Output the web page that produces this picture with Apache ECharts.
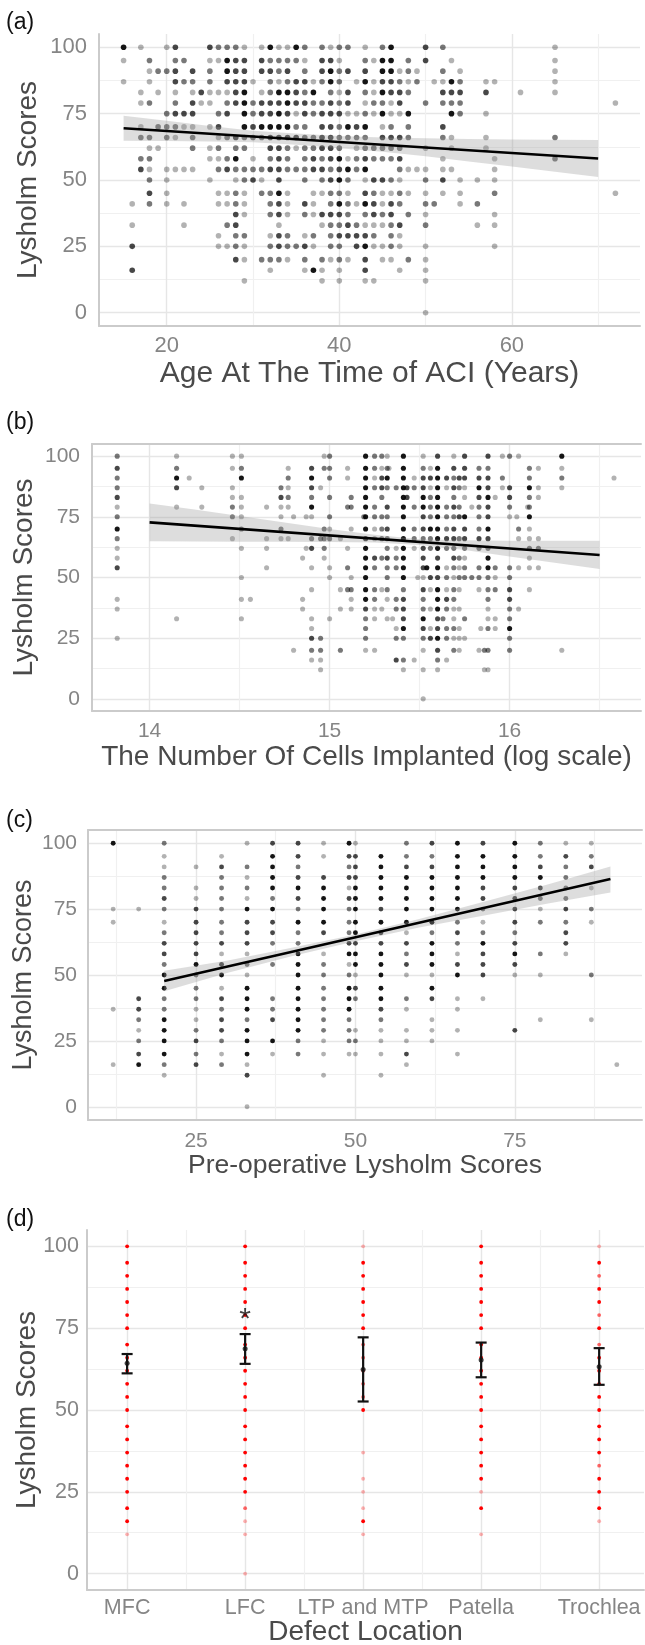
<!DOCTYPE html>
<html><head><meta charset="utf-8">
<script src="https://cdn.jsdelivr.net/npm/echarts@6/dist/echarts.min.js"></script>
<style>html,body{margin:0;padding:0;background:#fff}#c{width:645px;height:1645px}</style>
</head><body><div id="c"></div>
<script>
// ---------- DATA ----------
const yTicks = [0, 25, 50, 75, 100];
const yMinor = [12.5, 37.5, 62.5, 87.5];
const xTicksA = [20, 40, 60], xMinorA = [30, 50, 70];
const xTicksB = [14, 15, 16], xMinorB = [14.5, 15.5, 16.5];
const xTicksC = [25, 50, 75], xMinorC = [12.5, 37.5, 62.5, 87.5];
const categoriesD = ['MFC', 'LFC', 'LTP and MTP', 'Patella', 'Trochlea'];
const xTicksD = [0, 1, 2, 3, 4], xMinorD = [0.5, 1.5, 2.5, 3.5];

// (a) rows: [score, [[age, overlapCount], ...]]
const scoreRowsA = [
 [100, [[15,4],[17,1],[20,1],[21,3],[25,3],[26,2],[27,2],[28,2],[29,1],[31,1],[32,4],[33,1],[34,1],[35,4],[36,2],[38,2],[39,1],[40,2],[41,2],[43,1],[45,2],[46,4],[50,3],[52,2],[65,1]]],
 [95, [[15,1],[18,2],[21,2],[22,2],[25,1],[26,1],[27,4],[28,3],[29,3],[31,3],[32,2],[33,2],[34,2],[35,2],[36,1],[38,3],[39,3],[40,1],[43,2],[44,1],[45,4],[46,4],[48,2],[50,3],[53,1],[65,1]]],
 [91, [[18,1],[19,2],[20,2],[21,3],[23,3],[25,2],[27,4],[28,3],[29,3],[31,3],[32,3],[33,2],[34,3],[36,2],[38,3],[39,4],[40,2],[41,3],[43,3],[45,4],[46,4],[47,1],[48,2],[49,1],[52,2],[54,1],[65,1]]],
 [87, [[15,1],[18,1],[21,3],[22,2],[23,2],[25,2],[27,3],[28,3],[29,3],[30,1],[32,2],[33,1],[34,2],[35,3],[36,3],[37,1],[38,2],[39,4],[40,2],[42,1],[43,4],[44,1],[45,3],[46,3],[47,2],[48,1],[49,2],[51,1],[52,1],[53,4],[54,2],[57,1],[58,1],[65,1]]],
 [83, [[17,1],[19,1],[21,1],[23,1],[24,3],[25,1],[26,1],[27,1],[28,3],[29,4],[31,1],[32,2],[33,4],[34,4],[35,3],[36,2],[37,4],[39,2],[40,1],[41,3],[43,2],[44,1],[45,4],[46,3],[47,3],[48,2],[52,3],[53,3],[54,3],[57,3],[61,1],[65,1]]],
 [79, [[17,1],[18,2],[21,2],[23,3],[24,1],[25,1],[27,2],[28,3],[29,4],[30,2],[31,3],[32,3],[33,3],[34,4],[35,3],[36,3],[37,2],[38,2],[39,3],[40,2],[41,3],[43,1],[44,2],[45,2],[46,1],[47,3],[50,2],[52,2],[53,2],[54,2],[72,1]]],
 [75, [[20,2],[21,3],[22,3],[23,3],[26,2],[27,3],[29,4],[30,2],[31,3],[32,3],[33,4],[34,3],[35,1],[36,3],[37,2],[38,3],[39,3],[40,3],[41,1],[42,1],[43,2],[44,1],[45,4],[46,1],[47,1],[48,4],[53,4],[54,2],[57,1]]],
 [70, [[17,1],[19,2],[20,2],[21,2],[22,1],[23,1],[25,1],[26,3],[29,4],[30,3],[31,4],[32,4],[33,4],[34,4],[35,2],[36,2],[38,3],[39,3],[40,2],[41,4],[42,3],[43,4],[45,1],[46,2],[48,2],[52,3]]],
 [66, [[17,2],[18,2],[20,2],[21,1],[23,2],[26,1],[27,2],[28,3],[29,2],[30,2],[31,2],[32,3],[33,3],[34,3],[35,3],[36,2],[37,2],[38,3],[39,3],[40,2],[41,2],[42,2],[43,2],[45,3],[46,3],[47,3],[48,2],[52,2],[53,1],[57,1],[65,2]]],
 [62, [[18,1],[19,1],[23,2],[25,1],[26,2],[28,2],[29,2],[32,3],[33,3],[34,2],[35,1],[36,2],[37,2],[38,3],[39,3],[40,2],[42,1],[43,2],[44,2],[45,2],[46,2],[47,2],[50,1],[53,1],[57,1]]],
 [58, [[17,2],[18,2],[25,1],[26,1],[27,2],[28,4],[30,1],[32,2],[33,3],[34,2],[36,2],[37,3],[38,2],[39,3],[40,4],[41,1],[42,2],[43,3],[44,2],[45,2],[46,2],[47,3],[52,1],[58,1],[65,2]]],
 [54, [[17,3],[18,1],[20,1],[21,1],[22,1],[23,1],[26,2],[27,3],[28,2],[29,2],[30,2],[31,2],[32,3],[33,3],[34,2],[35,2],[36,2],[37,3],[38,3],[39,2],[40,3],[41,4],[42,2],[43,4],[47,2],[48,1],[49,1],[50,1],[52,1],[53,1],[58,1]]],
 [50, [[18,2],[20,1],[25,1],[28,1],[29,2],[30,3],[31,1],[33,3],[36,2],[38,2],[39,3],[40,4],[41,2],[43,1],[44,3],[45,3],[46,2],[47,1],[50,2],[52,3],[54,1],[56,1],[58,1]]],
 [45, [[18,3],[20,1],[26,1],[27,1],[28,2],[29,1],[31,2],[32,2],[33,4],[34,1],[37,1],[38,1],[39,2],[40,2],[41,1],[43,3],[44,2],[45,1],[46,1],[47,2],[48,1],[50,1],[52,1],[54,1],[58,2],[72,1]]],
 [41, [[16,1],[18,2],[20,1],[22,1],[26,1],[27,1],[28,2],[29,1],[32,2],[33,3],[34,1],[36,3],[37,1],[39,2],[40,4],[41,2],[42,1],[43,4],[44,3],[45,1],[46,3],[47,2],[50,2],[51,2],[54,1],[56,2]]],
 [37, [[28,3],[29,1],[32,2],[33,3],[34,1],[36,2],[37,1],[38,3],[39,3],[40,3],[41,2],[43,2],[44,3],[45,2],[46,3],[48,2],[50,1],[58,1]]],
 [33, [[16,1],[22,1],[27,2],[28,3],[33,1],[38,1],[39,2],[40,2],[41,3],[42,2],[43,1],[44,1],[45,1],[46,2],[47,3],[50,2],[56,1],[58,1]]],
 [29, [[26,1],[28,2],[29,2],[32,1],[33,3],[34,2],[36,1],[37,2],[39,2],[40,3],[41,3],[42,3],[43,3],[44,2],[46,2],[47,1]]],
 [25, [[16,3],[26,1],[27,1],[28,2],[29,1],[32,2],[33,3],[34,2],[35,2],[36,3],[37,1],[39,2],[40,2],[42,3],[43,4],[44,1],[45,1],[46,2],[47,1],[50,1],[58,1]]],
 [20, [[28,3],[29,1],[31,2],[32,2],[33,2],[34,1],[36,2],[38,2],[39,1],[40,2],[41,1],[43,3],[45,1],[46,1],[48,2],[50,1]]],
 [16, [[16,3],[32,1],[36,1],[37,4],[38,1],[40,1],[43,3],[47,1],[50,1]]],
 [12, [[29,1],[38,1],[40,1],[43,1],[44,1],[50,1]]],
 [0, [[50,1]]]
];
const fitA = [[15, 69.5], [70, 58.1]];
const bandAx = [15, 20, 25, 30, 35, 40, 45, 50, 55, 60, 65, 70];
const bandAlo = [64.8, 64.7, 64.5, 64.2, 63.3, 62.0, 60.6, 58.9, 57.0, 55.1, 53.1, 51.1];
const bandAhi = [74.2, 72.3, 70.3, 68.6, 67.5, 66.6, 66.0, 65.7, 65.4, 65.3, 65.2, 65.1];

// (b) rows: [score, [[log cells, overlapCount], ...]]
const scoreRowsB = [
 [100, [[13.82,2],[14.15,1],[14.46,1],[14.51,1],[14.97,1],[15.00,2],[15.20,4],[15.25,2],[15.29,2],[15.32,1],[15.41,4],[15.52,1],[15.60,3],[15.69,1],[15.75,3],[15.88,3],[15.96,1],[16.00,2],[16.05,1],[16.29,4]]],
 [95, [[13.82,3],[14.15,2],[14.46,1],[14.51,2],[14.77,1],[14.90,3],[14.97,2],[15.00,2],[15.10,1],[15.20,4],[15.25,2],[15.29,1],[15.32,2],[15.33,1],[15.41,4],[15.52,2],[15.56,1],[15.60,4],[15.69,3],[15.75,3],[15.83,2],[15.88,2],[16.11,2],[16.16,1],[16.29,1]]],
 [91, [[13.82,2],[14.15,4],[14.22,1],[14.51,4],[14.77,2],[14.90,4],[15.00,2],[15.10,1],[15.20,4],[15.25,1],[15.29,3],[15.32,4],[15.41,4],[15.47,1],[15.52,3],[15.56,3],[15.60,4],[15.65,3],[15.69,2],[15.72,3],[15.75,3],[15.83,3],[15.88,3],[15.96,2],[16.11,2],[16.29,2],[16.58,1]]],
 [87, [[13.82,2],[14.15,3],[14.29,1],[14.46,1],[14.73,2],[14.77,1],[14.90,3],[14.95,1],[15.20,4],[15.25,2],[15.29,3],[15.32,2],[15.37,2],[15.41,4],[15.43,3],[15.47,2],[15.52,3],[15.56,1],[15.60,4],[15.65,1],[15.69,3],[15.72,2],[15.75,1],[15.83,4],[15.88,3],[15.96,1],[16.00,3],[16.11,4],[16.16,1],[16.29,1]]],
 [83, [[13.82,3],[14.46,1],[14.51,1],[14.73,3],[14.77,2],[14.90,2],[15.00,2],[15.12,2],[15.20,4],[15.29,2],[15.41,4],[15.43,3],[15.52,4],[15.56,2],[15.60,4],[15.69,2],[15.75,1],[15.83,3],[15.88,4],[15.92,1],[16.00,3],[16.11,2],[16.16,1]]],
 [79, [[13.82,1],[14.15,1],[14.29,1],[14.46,2],[14.51,1],[14.65,1],[14.73,1],[14.77,1],[14.90,4],[15.10,2],[15.12,2],[15.20,4],[15.25,2],[15.32,3],[15.41,4],[15.47,2],[15.52,4],[15.56,2],[15.60,4],[15.65,2],[15.69,3],[15.72,2],[15.79,1],[15.83,2],[15.88,3],[16.00,2],[16.10,1],[16.11,2]]],
 [75, [[13.82,2],[14.46,2],[14.51,1],[14.73,1],[14.80,1],[14.87,1],[14.90,1],[15.00,2],[15.19,2],[15.20,4],[15.25,2],[15.29,2],[15.32,2],[15.41,4],[15.52,3],[15.56,2],[15.60,4],[15.65,2],[15.69,2],[15.72,3],[15.75,4],[15.83,2],[15.88,3],[16.00,1],[16.04,1],[16.11,4]]],
 [70, [[13.82,4],[14.51,2],[14.73,2],[14.97,2],[15.00,1],[15.12,1],[15.20,4],[15.25,1],[15.29,2],[15.32,3],[15.41,4],[15.47,2],[15.52,3],[15.56,4],[15.60,4],[15.65,2],[15.69,3],[15.75,3],[15.83,2],[15.88,4],[16.05,2],[16.11,1]]],
 [66, [[13.82,2],[14.46,1],[14.65,1],[14.73,1],[14.77,1],[14.90,2],[14.95,2],[14.97,2],[15.00,2],[15.06,1],[15.20,3],[15.25,1],[15.29,2],[15.32,2],[15.41,4],[15.47,2],[15.52,2],[15.56,2],[15.60,4],[15.65,3],[15.69,3],[15.72,2],[15.75,3],[15.83,3],[15.88,3],[16.05,1],[16.11,1],[16.16,1]]],
 [62, [[13.82,1],[14.51,1],[14.65,1],[14.87,1],[14.90,3],[14.97,2],[15.10,1],[15.20,4],[15.32,2],[15.37,1],[15.41,4],[15.47,1],[15.52,3],[15.56,2],[15.60,4],[15.65,2],[15.69,2],[15.75,2],[15.83,2],[15.88,2],[16.11,2],[16.16,2]]],
 [58, [[13.82,1],[14.85,1],[14.97,1],[15.20,4],[15.25,3],[15.29,2],[15.32,3],[15.37,2],[15.41,4],[15.52,3],[15.60,3],[15.69,3],[15.72,2],[15.75,1],[15.88,4],[16.11,1]]],
 [54, [[13.82,3],[14.65,1],[14.90,1],[15.00,1],[15.10,2],[15.20,4],[15.25,2],[15.32,2],[15.37,2],[15.41,4],[15.52,3],[15.54,4],[15.60,4],[15.65,1],[15.69,2],[15.72,1],[15.75,2],[15.83,2],[15.88,4],[15.92,2],[16.00,2],[16.05,1],[16.11,1],[16.16,1]]],
 [50, [[14.51,1],[15.00,1],[15.12,1],[15.20,4],[15.32,2],[15.41,4],[15.49,1],[15.52,1],[15.56,3],[15.60,3],[15.65,2],[15.69,1],[15.72,2],[15.75,2],[15.79,2],[15.83,2],[15.88,2],[15.92,1],[16.00,2]]],
 [45, [[14.90,1],[15.06,1],[15.10,2],[15.12,2],[15.20,4],[15.25,2],[15.29,1],[15.32,2],[15.41,2],[15.52,3],[15.56,1],[15.60,4],[15.65,1],[15.69,2],[15.72,1],[15.83,1],[15.88,2],[15.92,2],[16.00,3],[16.11,1]]],
 [41, [[13.82,1],[14.51,1],[14.56,1],[14.85,1],[15.12,1],[15.20,4],[15.25,2],[15.32,1],[15.37,2],[15.41,3],[15.52,2],[15.60,4],[15.65,3],[15.69,2],[15.88,2],[16.00,3]]],
 [37, [[13.82,1],[14.85,1],[15.06,1],[15.12,1],[15.20,3],[15.25,1],[15.29,1],[15.37,2],[15.41,3],[15.52,2],[15.56,1],[15.60,4],[15.65,2],[15.69,1],[15.72,1],[15.88,1],[16.00,2],[16.05,1]]],
 [33, [[14.15,1],[14.51,1],[14.90,1],[15.00,1],[15.20,2],[15.25,1],[15.32,1],[15.35,1],[15.41,3],[15.52,4],[15.60,3],[15.63,2],[15.69,1],[15.75,2],[15.88,1],[15.92,1],[16.00,2]]],
 [29, [[14.90,1],[15.20,2],[15.37,1],[15.41,4],[15.52,3],[15.56,1],[15.60,3],[15.65,2],[15.69,2],[15.72,1],[15.84,1],[15.88,2],[15.92,1],[16.00,4]]],
 [25, [[13.82,1],[14.90,3],[14.95,2],[15.20,2],[15.37,2],[15.41,2],[15.52,2],[15.56,3],[15.60,4],[15.65,2],[15.69,1],[15.72,1],[15.75,1],[16.00,2]]],
 [20, [[14.80,1],[14.90,2],[14.95,2],[15.06,2],[15.20,1],[15.25,1],[15.52,1],[15.60,3],[15.69,2],[15.72,1],[15.83,1],[15.86,2],[15.88,2],[16.00,2],[16.29,1]]],
 [16, [[14.90,1],[14.95,1],[15.37,3],[15.41,2],[15.47,1],[15.60,2],[15.65,1]]],
 [12, [[14.95,1],[15.41,1],[15.52,1],[15.60,1],[15.86,1],[15.88,1]]],
 [0, [[15.52,1]]]
];
const fitB = [[14.0, 72.7], [16.5, 59.3]];
const bandBx = [14.0, 14.25, 14.5, 14.75, 15.0, 15.25, 15.5, 15.75, 16.0, 16.25, 16.5];
const bandBlo = [64.9, 64.8, 64.7, 64.7, 64.6, 64.4, 63.4, 61.3, 58.7, 56.1, 53.5];
const bandBhi = [80.5, 78.0, 75.3, 72.7, 70.0, 67.6, 65.8, 65.3, 65.1, 65.1, 65.1];

// (c) columns: [pre-op score, [[post-op score, overlapCount], ...]]
const preColsC = [
 [12, [[100,4],[75,1],[70,1],[37,1],[16,1]]],
 [16, [[75,1],[41,3],[37,3],[33,2],[29,1],[25,2],[20,3],[16,4]]],
 [20, [[100,2],[95,1],[91,1],[87,2],[83,2],[79,3],[75,2],[70,1],[66,2],[62,3],[58,3],[54,2],[50,4],[45,4],[41,2],[37,2],[33,4],[29,4],[25,4],[20,4],[16,2],[12,1]]],
 [25, [[91,1],[83,1],[79,1],[75,3],[70,3],[66,3],[62,3],[58,3],[54,4],[50,2],[45,2],[41,2],[37,1],[33,1],[29,2],[25,3],[20,2],[16,3]]],
 [29, [[95,1],[91,3],[87,2],[83,2],[79,2],[75,2],[70,2],[66,2],[62,3],[58,1],[54,3],[50,4],[45,1],[41,3],[37,2],[33,3],[29,3],[25,2],[20,1],[16,2]]],
 [33, [[100,1],[91,2],[87,1],[83,2],[79,1],[75,4],[70,3],[66,3],[62,3],[58,1],[54,2],[50,1],[45,4],[41,4],[37,4],[33,2],[29,4],[25,4],[20,4],[16,1],[12,3],[0,1]]],
 [37, [[100,3],[95,4],[91,4],[87,4],[83,4],[79,2],[75,4],[70,3],[66,3],[62,2],[54,2],[41,2],[37,2],[33,3],[25,4],[20,1]]],
 [41, [[100,3],[95,3],[91,2],[87,3],[83,4],[79,3],[75,2],[70,4],[66,2],[62,2],[58,4],[54,4],[50,4],[45,4],[41,4],[37,4],[33,4],[29,4],[25,2],[20,2]]],
 [45, [[100,1],[95,1],[87,3],[83,4],[79,4],[75,4],[70,4],[66,3],[58,1],[54,2],[50,2],[45,2],[41,2],[37,2],[33,2],[29,2],[25,1],[20,1],[12,1]]],
 [49, [[100,4],[95,3],[91,2],[87,3],[83,1],[79,3],[75,2],[70,2],[66,2],[62,3],[58,4],[54,1],[50,2],[45,4],[41,4],[37,4],[33,2],[29,2],[25,2],[20,1]]],
 [50, [[100,1],[95,3],[91,3],[87,3],[83,4],[79,4],[75,4],[70,4],[66,4],[62,3],[58,4],[54,4],[50,1],[45,3],[41,2],[29,1],[25,2],[20,1]]],
 [54, [[95,4],[91,4],[87,4],[83,4],[79,4],[75,3],[70,4],[66,3],[62,3],[58,4],[54,4],[50,4],[45,4],[41,4],[37,3],[33,2],[29,1],[25,1],[20,1],[12,1]]],
 [58, [[100,2],[95,2],[91,3],[87,4],[83,4],[79,4],[75,4],[70,4],[66,1],[62,3],[58,2],[54,3],[50,1],[41,2],[37,1],[29,1],[25,1],[20,3],[16,1]]],
 [62, [[100,3],[95,2],[91,3],[87,4],[83,4],[79,4],[75,4],[70,4],[66,2],[62,4],[58,4],[54,4],[50,1],[45,4],[41,3],[33,1],[29,1],[25,1]]],
 [66, [[100,4],[95,4],[91,4],[87,4],[83,4],[79,4],[75,4],[70,2],[66,3],[62,2],[58,1],[54,3],[50,4],[41,1],[37,1],[29,1],[20,1]]],
 [70, [[100,3],[95,4],[91,4],[87,4],[83,3],[79,3],[75,2],[70,1],[66,2],[62,4],[58,3],[54,3],[50,3],[41,1]]],
 [75, [[100,4],[95,4],[91,4],[87,4],[83,3],[79,3],[75,3],[70,3],[66,2],[62,3],[58,4],[54,3],[50,1],[29,3]]],
 [79, [[100,2],[95,2],[91,3],[87,4],[83,3],[79,2],[75,1],[70,2],[58,2],[50,1],[33,1]]],
 [83, [[100,1],[95,3],[91,2],[87,2],[83,2],[79,2],[75,3],[70,2],[66,3],[62,3],[58,1]]],
 [87, [[100,1],[95,2],[91,3],[83,1],[75,2],[70,1],[50,2],[33,1]]],
 [91, [[16,1]]]
];
const fitC = [[20, 47.7], [90, 86.4]];
const bandCx = [20, 30, 40, 50, 60, 70, 80, 90];
const bandClo = [43.8, 50.9, 57.1, 62.8, 68.0, 72.5, 77.0, 81.3];
const bandChi = [51.6, 55.5, 60.3, 65.4, 71.2, 77.7, 84.2, 91.2];

// (d) red points per location: [categoryIndex, [[score, overlapLevel], ...]]
const redColsD = [
 [0, [[100,3],[95,3],[91,3],[87,3],[83,3],[79,3],[75,3],[70,3],[66,3],[62,3],[58,3],[54,3],[50,3],[45,3],[41,3],[37,3],[33,3],[29,3],[25,3],[20,3],[16,3],[12,1]]],
 [1, [[100,3],[95,3],[91,3],[87,3],[83,3],[79,3],[75,3],[70,3],[66,3],[62,3],[58,3],[54,3],[50,3],[45,3],[41,3],[37,3],[33,3],[29,3],[25,3],[20,2],[16,1],[12,1],[0,1]]],
 [2, [[100,1],[95,3],[91,3],[87,3],[83,3],[79,3],[75,3],[70,2],[66,2],[62,2],[58,2],[54,2],[50,3],[37,1],[29,1],[25,1],[20,1],[16,3],[12,1]]],
 [3, [[100,3],[95,3],[91,3],[87,3],[83,3],[79,3],[75,3],[70,3],[66,3],[62,3],[58,3],[54,3],[50,3],[45,3],[41,3],[37,3],[33,3],[29,3],[25,1],[20,3],[12,1]]],
 [4, [[100,1],[95,3],[91,2],[87,3],[83,3],[79,2],[75,3],[70,2],[66,3],[62,3],[58,3],[54,3],[50,3],[45,3],[41,3],[37,3],[33,2],[29,3],[25,3],[20,3],[16,1]]]
];
// means and 95% CI per location
const meansD = [64.3, 68.7, 62.4, 65.3, 63.2];
const ciLowD = [61.2, 64.1, 52.6, 60.0, 57.7];
const ciHighD = [67.1, 73.2, 72.2, 70.6, 68.9];
const signifD = [[1, 77.5]];

// ---------- STYLE ----------
const FONT = 'Liberation Sans, Arial, Helvetica, sans-serif';
const TICK_C = '#858585', TITLE_C = '#4a4a4a', AXIS_C = '#cbcbcb', GRID_C = '#e6e6e6', MINOR_C = '#f0f0f0';
const OP = [0, 0.3, 0.53, 0.72, 0.92];
const OPD = [0, 0.3, 0.6, 1];

const panels = [
 {grid:{left:99, top:34, width:541, height:292}, xmin:12.15, xmax:74.85, xt:xTicksA, xm:xMinorA,
  xname:'Age At The Time of ACI (Years)', top:false, xNameGap:33, yNameGap:57, xMargin:9, yMargin:12, tick:22, title:28, xtitle:30},
 {grid:{left:92, top:444, width:549, height:267}, xmin:13.68, xmax:16.73, xt:xTicksB, xm:xMinorB,
  xname:'The Number Of Cells Implanted (log scale)', top:true, xNameGap:32, yNameGap:54, xMargin:10, yMargin:12, tick:21, title:28, xtitle:28},
 {grid:{left:88, top:830, width:554, height:290}, xmin:8.05, xmax:94.95, xt:xTicksC, xm:xMinorC,
  xname:'Pre-operative Lysholm Scores', top:true, xNameGap:32, yNameGap:51, xMargin:11, yMargin:11, tick:21, title:27, xtitle:26.5},
 {grid:{left:87, top:1230, width:557, height:360}, xmin:-0.34, xmax:4.38, xt:xTicksD, xm:xMinorD,
  xname:'Defect Location', top:false, xNameGap:28, yNameGap:46, xMargin:7, yMargin:8, tick:21.5, title:28, xtitle:28,
  fmt: v => categoriesD[Math.round(v)]}
];

const grids = [], xAxes = [], yAxes = [], xMin = [], yMin = [];
panels.forEach((p, i) => {
  grids.push(Object.assign({containLabel:false, outerBoundsMode:'none'}, p.grid));
  xAxes.push({type:'value', gridIndex:i, min:p.xmin, max:p.xmax, position:'bottom',
    name:p.xname, nameLocation:'middle', nameGap:p.xNameGap, nameMoveOverlap:false,
    nameTextStyle:{fontSize:p.xtitle, color:TITLE_C, fontFamily:FONT},
    axisLine:{show:true, onZero:false, lineStyle:{color:AXIS_C, width:2}},
    axisTick:{show:false, customValues:p.xt},
    axisLabel:{customValues:p.xt, formatter:p.fmt, fontSize:p.tick, color:TICK_C, margin:p.xMargin, fontFamily:FONT},
    splitLine:{show:true, lineStyle:{color:GRID_C, width:1.4}}});
  xMin.push({type:'value', gridIndex:i, min:p.xmin, max:p.xmax, position:'top',
    axisLine:{show:p.top, onZero:false, lineStyle:{color:AXIS_C, width:2}},
    axisTick:{show:false, customValues:p.xm}, axisLabel:{show:false, customValues:p.xm},
    splitLine:{show:true, lineStyle:{color:MINOR_C, width:1.2}}});
  yAxes.push({type:'value', gridIndex:i, min:-5, max:105, position:'left',
    name:'Lysholm Scores', nameLocation:'middle', nameGap:p.yNameGap, nameMoveOverlap:false,
    nameTextStyle:{fontSize:p.title, color:TITLE_C, fontFamily:FONT},
    axisLine:{show:true, onZero:false, lineStyle:{color:AXIS_C, width:2}},
    axisTick:{show:false, customValues:yTicks},
    axisLabel:{customValues:yTicks, fontSize:p.tick, color:TICK_C, margin:p.yMargin, fontFamily:FONT},
    splitLine:{show:true, lineStyle:{color:GRID_C, width:1.4}}});
  yMin.push({type:'value', gridIndex:i, min:-5, max:105, position:'right',
    axisLine:{show:false, onZero:false}, axisTick:{show:false, customValues:yMinor},
    axisLabel:{show:false, customValues:yMinor},
    splitLine:{show:true, lineStyle:{color:MINOR_C, width:1.2}}});
});

function fromRows(rows) { // rows keyed by y
  const out = [];
  rows.forEach(([y, pts]) => pts.forEach(([x, n]) => out.push({value:[x, y], itemStyle:{opacity:OP[n]}})));
  return out;
}
function fromCols(cols, ops) { // cols keyed by x
  const out = [];
  cols.forEach(([x, pts]) => pts.forEach(([y, n]) => out.push({value:[x, y], itemStyle:{opacity:ops[n]}})));
  return out;
}
function bandSeries(i, bx, lo, hi) {
  return {type:'custom', xAxisIndex:i, yAxisIndex:i, silent:true, z:4,
    data: bx.map((x, k) => [x, lo[k], hi[k]]),
    renderItem: (params, api) => {
      if (params.dataIndex !== 0) return null;
      const top = bx.map((x, k) => api.coord([x, hi[k]]));
      const bot = bx.map((x, k) => api.coord([x, lo[k]])).reverse();
      return {type:'polygon', shape:{points: top.concat(bot)}, style:{fill:'rgba(150,150,150,0.32)'}};
    }};
}
function lineSeries(i, pts) {
  return {type:'line', xAxisIndex:i, yAxisIndex:i, data:pts, symbol:'none', silent:true, z:5,
    lineStyle:{color:'#000', width:2.6}};
}
function scatterSeries(i, data, size, color) {
  return {type:'scatter', xAxisIndex:i, yAxisIndex:i, data, symbolSize:size, silent:true, z:3,
    itemStyle:{color}};
}

const series = [
  scatterSeries(0, fromRows(scoreRowsA), 5.6, '#000'), bandSeries(0, bandAx, bandAlo, bandAhi), lineSeries(0, fitA),
  scatterSeries(1, fromRows(scoreRowsB), 5.1, '#000'), bandSeries(1, bandBx, bandBlo, bandBhi), lineSeries(1, fitB),
  scatterSeries(2, fromCols(preColsC, OP), 4.9, '#000'), bandSeries(2, bandCx, bandClo, bandChi), lineSeries(2, fitC),
  scatterSeries(3, fromCols(redColsD, OPD), 3.8, '#ff0000'),
  {type:'custom', xAxisIndex:3, yAxisIndex:3, silent:true, z:6,
    data: meansD.map((m, k) => [k, ciLowD[k], ciHighD[k]]),
    renderItem: (params, api) => {
      const x = api.value(0);
      const pT = api.coord([x, api.value(2)]), pB = api.coord([x, api.value(1)]);
      const w = 5.5, st = {stroke:'#111', lineWidth:2.2};
      return {type:'group', children:[
        {type:'line', shape:{x1:pT[0], y1:pT[1], x2:pB[0], y2:pB[1]}, style:st},
        {type:'line', shape:{x1:pT[0]-w, y1:pT[1], x2:pT[0]+w, y2:pT[1]}, style:st},
        {type:'line', shape:{x1:pB[0]-w, y1:pB[1], x2:pB[0]+w, y2:pB[1]}, style:st}]};
    }},
  {type:'scatter', xAxisIndex:3, yAxisIndex:3, silent:true, z:7, symbolSize:5,
    data: meansD.map((m, k) => [k, m]), itemStyle:{color:'#111'}},
  {type:'scatter', xAxisIndex:3, yAxisIndex:3, silent:true, z:7, symbolSize:1,
    data: signifD, itemStyle:{color:'rgba(0,0,0,0)'},
    label:{show:true, position:'inside', formatter:'*', fontSize:30, color:'#111', fontFamily:FONT}}
];

const labelTitles = [['(a)', 11], ['(b)', 411], ['(c)', 809], ['(d)', 1208]].map(([t, y]) => ({
  text:t, left:6, top:y, padding:0, textStyle:{fontSize:23, fontWeight:'normal', color:'#111', fontFamily:FONT}}));

const chart = echarts.init(document.getElementById('c'), null, {renderer:'canvas', width:645, height:1645});
chart.setOption({
  animation:false, backgroundColor:'#fff',
  title: labelTitles,
  grid: grids,
  xAxis: xAxes.concat(xMin),
  yAxis: yAxes.concat(yMin),
  series
});
</script></body></html>
